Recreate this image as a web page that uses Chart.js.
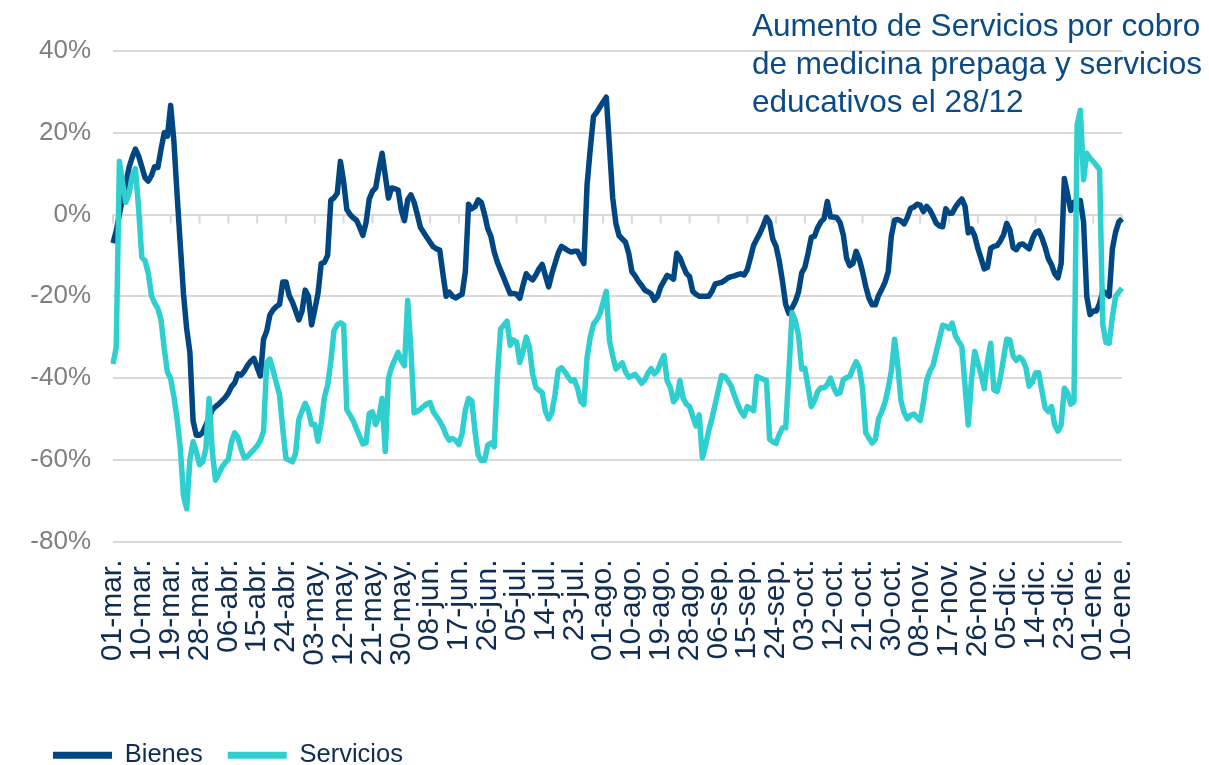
<!DOCTYPE html>
<html lang="es">
<head>
  <meta charset="UTF-8">
  <title>Bienes y Servicios</title>
  <script src="https://cdn.jsdelivr.net/npm/chart.js"></script>
  <style>
    html, body { margin: 0; padding: 0; background: #fff; }
    #wrap { position: relative; width: 1209px; height: 765px; }
    #nota {
      position: absolute; left: 752px; top: 6px;
      font: 31.5px/38px "Liberation Sans", Arial, sans-serif;
      color: #0b4a85; white-space: nowrap;
    }
  </style>
</head>
<body>
  <div id="wrap">
    <canvas id="grafico" width="1209" height="765"></canvas>
    <div id="nota">Aumento de Servicios por cobro<br>de medicina prepaga y servicios<br>educativos el 28/12</div>
  </div>

  <script>
    // variacion diaria (%), desde 01-mar
    const bienes = [
      -7, -4, 0, 4, 7.5, 11.5, 14, 16, 14.3, 11.7, 9, 8.2, 9.5, 11.7, 11.5, 16, 20, 19.2, 26.7, 18,
      5, -7.3, -19.3, -28, -33.7, -50.5, -54, -54, -53.3, -51.5, -49.7, -47.8, -47, -46.4, -45.6, -44.8, -43.7, -42.1, -41.2, -39,
      -39.3, -38.3, -36.9, -35.9, -35.2, -37.4, -39.5, -30.5, -28.5, -24.5, -23.3, -22.5, -22, -16.5, -16.5, -19.8, -21.4, -23.5, -25.8, -23.7,
      -18.5, -20, -27, -23.2, -19.3, -12, -11.7, -10, 3.5, 4.1, 5.2, 13, 8, 1.2, 0, -0.8, -1.4, -3.1, -5.1, -2,
      3.8, 5.7, 6.5, 11, 15, 9.5, 4, 6.5, 6.3, 6, 1, -1.5, 3.6, 4.8, 3, 0, -3.2, -4.4, -5.6, -6.8,
      -7.9, -8.4, -8.7, -14.5, -20, -19, -20, -20.4, -19.9, -19.5, -14, 2.5, 1.4, 1.9, 3.6, 2.9, 0, -3.5, -5.4, -9.1,
      -11.7, -13.6, -15.5, -17.5, -19.4, -19.3, -19.5, -20.5, -17.3, -14.5, -15.4, -16, -14.8, -13.3, -12.2, -15, -17.7, -14.5, -12, -9.4,
      -7.8, -8.3, -8.8, -9.2, -9, -9, -10.5, -12, 7.3, 16, 24, 25, 26.3, 27.5, 28.7, 16.5, 4.1, -2.2, -5.2, -6,
      -6.8, -9.5, -14, -15, -16.3, -17.3, -18.5, -18.9, -19.4, -21, -20, -17.7, -16.3, -14.9, -15.3, -15.8, -9.5, -10.6, -12.6, -14.4,
      -15.2, -18.8, -19.5, -20, -20, -20, -20, -18.8, -17, -16.8, -16.6, -16.1, -15.5, -15.2, -15, -14.7, -14.5, -14.8, -13.5, -10.6,
      -7.5, -6, -4.5, -2.7, -0.7, -1.9, -6.1, -7.8, -11.4, -16.3, -22, -24.2, -22.8, -21.3, -19, -14.3, -12.9, -9.5, -5.6, -5.3,
      -3.2, -1.8, -1, 3.2, -0.6, -0.6, -0.8, -2, -5, -10.6, -12.5, -12, -9, -11, -14, -17.6, -20.5, -22.1, -22.1, -19.8,
      -18.3, -16.6, -14, -5.2, -1.4, -1.2, -1.6, -2.3, -0.7, 1.5, 1.8, 2.5, 2.3, 0.7, 2, 1.1, -0.4, -2.1, -2.8, -3,
      1.4, 0.3, 0.3, 1.8, 2.9, 3.8, 2, -4.5, -3.5, -5.2, -8.3, -10.7, -13.3, -12.9, -8.3, -7.8, -7.6, -6.5, -5, -2.2,
      -3.8, -8.1, -8.6, -7.4, -7.2, -7.8, -8.4, -6, -4.4, -4, -5.7, -8, -10.8, -12.3, -14.5, -15.5, -12, 8.8, 5, 1,
      3, 3.4, 3.4, -1.8, -20, -24.5, -23.6, -23.6, -21.7, -18.7, -19.3, -20, -8.4, -4.3, -1.8, -1
    ];
    const servicios = [
      -36.6, -32.5, 13, 7.7, 3, 5.1, 9.4, 11.2, 1.4, -10.5, -11.3, -14.3, -19.8, -21.7, -23, -25.8, -32.8, -38.6, -40.2, -44.5,
      -50, -57, -68.8, -72, -60, -55.6, -58, -61.2, -60.5, -57.3, -45, -58, -65, -63.5, -61.8, -60.8, -59.9, -55.6, -53.4, -54.5,
      -57.4, -59.5, -59.2, -58.3, -57.5, -56.6, -55.3, -53, -36.2, -35.4, -38.2, -41.2, -44.2, -52.5, -59.7, -60.1, -60.5, -58.5, -50.2, -48.1,
      -46.2, -48, -51.4, -51.4, -55.5, -51, -44.7, -41.8, -36, -28.4, -27, -26.5, -27, -47.8, -49.1, -50.5, -52.4, -54.3, -56.1, -55.8,
      -48.7, -48.3, -51.4, -49.6, -45, -58, -40, -37.3, -35.5, -33.7, -35.8, -37, -21, -33, -48.5, -48.2, -47.6, -46.9, -46.3, -46,
      -48.3, -49.4, -50.6, -52, -54, -55.2, -54.8, -55.3, -56.3, -53.5, -47.8, -45, -45.6, -53, -58.8, -60.2, -60.2, -56.4, -55.9, -56.8,
      -39.7, -28, -27.1, -26.1, -32, -30.7, -31.2, -36.2, -33.5, -30, -32.5, -39, -42.3, -43, -43.6, -48.2, -50, -48.5, -44, -38.1,
      -37.5, -38.4, -39.6, -40.7, -40.4, -42.4, -45.7, -46.5, -35, -30, -26.8, -25.8, -24.3, -21.6, -18.8, -30.9, -34.6, -37.8, -37, -36.3,
      -38.5, -39.8, -39.5, -39.1, -40.1, -41.3, -40.5, -38.8, -37.7, -39, -38.2, -36.2, -34.5, -40.7, -42.3, -45.8, -44.8, -40.6, -45, -46.4,
      -47, -49.4, -51.7, -49, -59.5, -56.5, -52.8, -49.9, -46.4, -42.9, -39.4, -39.6, -40.7, -42, -44.3, -46.4, -48.2, -49.3, -47, -47.5,
      -48, -39.6, -40, -40.3, -40.6, -55, -55.6, -56, -53.8, -52.2, -52.2, -38.6, -24, -26, -29.5, -37.8, -37.6, -42.2, -47, -45.6,
      -43.3, -42.4, -42.4, -41.6, -40, -42.4, -43.9, -43.6, -40.4, -39.9, -39.6, -37.7, -36, -37.6, -42.5, -53.4, -54.7, -55.9, -55, -50,
      -48.2, -46, -42.5, -38.3, -30.5, -37, -45.6, -48.5, -50, -49.1, -48.8, -49.6, -50.4, -46, -40.6, -38.4, -37, -33.6, -30.4, -27.1,
      -27.3, -27.9, -26.6, -29.7, -31.1, -32.3, -42, -51.5, -40.5, -33.5, -36.3, -39.2, -42.6, -36, -31.5, -42.9, -43.3, -40.1, -35.3, -30.5,
      -30.7, -34.6, -35.7, -34.9, -35.6, -37.5, -42, -41, -38.8, -38.7, -43.1, -47.3, -48.2, -47, -51.5, -53, -51.5, -42.5, -43.6, -46.4,
      -45.8, 22, 25.5, 8.5, 15, 13.8, 13, 12, 11, -27, -31.3, -31.5, -25, -20, -19, -18
    ];

    const meses = ['ene.', 'feb.', 'mar.', 'abr.', 'may.', 'jun.', 'jul.', 'ago.', 'sep.', 'oct.', 'nov.', 'dic.'];
    const fechas = [];
    for (let i = 0; i < bienes.length; i++) {
      const d = new Date(2020, 2, 1 + i);
      fechas.push(String(d.getDate()).padStart(2, '0') + '-' + meses[d.getMonth()]);
    }
    const cadaN = 9; // una etiqueta cada 9 dias

    const fuente = '"Liberation Sans", Arial, sans-serif';

    // marcas cortas sobre la linea del 0%
    const marcasCero = {
      id: 'marcasCero',
      beforeDatasetsDraw(chart) {
        const { ctx, scales: { x, y } } = chart;
        const y0 = y.getPixelForValue(0);
        ctx.save();
        ctx.strokeStyle = '#d9d9d9';
        ctx.lineWidth = 2;
        for (let i = 0; i < fechas.length; i += cadaN) {
          const px = x.getPixelForValue(i);
          ctx.beginPath();
          ctx.moveTo(px, y0);
          ctx.lineTo(px, y0 + 9);
          ctx.stroke();
        }
        ctx.restore();
      }
    };

    const ctx = document.getElementById('grafico').getContext('2d');
    new Chart(ctx, {
      type: 'line',
      data: {
        labels: fechas,
        datasets: [{
          label: 'Bienes',
          data: bienes,
          borderColor: '#004682',
          backgroundColor: '#004682',
          borderWidth: 5.5,
          pointRadius: 0,
          tension: 0,
          borderJoinStyle: 'round',
          order: 1
        }, {
          label: 'Servicios',
          data: servicios,
          borderColor: '#30cfcf',
          backgroundColor: '#30cfcf',
          borderWidth: 5.5,
          pointRadius: 0,
          tension: 0,
          borderJoinStyle: 'round',
          order: 0
        }]
      },
      options: {
        responsive: false,
        animation: false,
        layout: { padding: { left: 28, right: 87, top: 51, bottom: -13 } },
        scales: {
          x: {
            grid: { display: false, drawTicks: false },
            border: { display: false },
            afterFit: (s) => { s.height = 176; },
            ticks: {
              autoSkip: false,
              minRotation: 90,
              maxRotation: 90,
              padding: 18,
              color: '#0f2c52',
              font: { family: fuente, size: 30 },
              callback: function (v, i) {
                return i % cadaN === 0 ? this.getLabelForValue(v) : null;
              }
            }
          },
          y: {
            min: -80,
            max: 40,
            grid: { color: '#d9d9d9', lineWidth: 2, drawTicks: false },
            border: { display: false },
            afterFit: (s) => { s.width = 85; },
            ticks: {
              stepSize: 20,
              padding: 22,
              color: '#7f7f7f',
              font: { family: fuente, size: 26 },
              callback: (v) => v + '%'
            }
          }
        },
        plugins: {
          tooltip: { enabled: false },
          legend: {
            position: 'bottom',
            align: 'start',
            labels: {
              boxWidth: 59,
              boxHeight: 7,
              padding: 25,
              color: '#0f2c52',
              font: { family: fuente, size: 25.5 },
              sort: (a, b) => a.datasetIndex - b.datasetIndex,
              generateLabels: (chart) =>
                Chart.defaults.plugins.legend.labels.generateLabels(chart)
                  .map(l => Object.assign(l, { lineWidth: 0 }))
            }
          }
        }
      },
      plugins: [marcasCero]
    });
  </script>
</body>
</html>
